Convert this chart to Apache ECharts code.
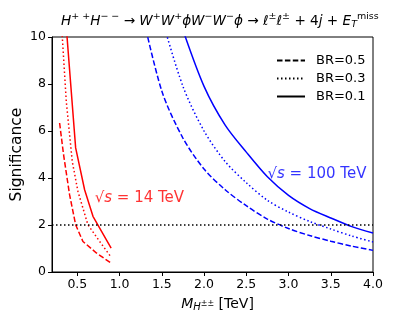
<!DOCTYPE html>
<html><head><meta charset="utf-8">
<script src="https://cdn.jsdelivr.net/npm/echarts@6/dist/echarts.min.js"></script>
<style>html,body{margin:0;padding:0;background:#fff}#c{width:415px;height:312px}</style>
</head><body><div id="c"></div>
<script>
const xTicks = [0.5, 1.0, 1.5, 2.0, 2.5, 3.0, 3.5, 4.0];
const yTicks = [0, 2, 4, 6, 8, 10];
// sqrt(s)=14 TeV
const lhc_br05 = [[0.29,6.34],[0.337,4.99],[0.408,3.29],[0.48,2.01],[0.566,1.30],[0.725,0.81],[0.90,0.38]];
const lhc_br03 = [[0.315,10.4],[0.369,7.26],[0.44,4.70],[0.507,3.43],[0.625,2.01],[0.764,1.30],[0.894,0.66]];
const lhc_br01 = [[0.35,11.3],[0.48,5.28],[0.586,3.50],[0.685,2.37],[0.90,1.02]];
// sqrt(s)=100 TeV
const fcc_mass = [1.25,1.5,1.75,2.0,2.25,2.5,2.75,3.0,3.25,3.5,3.75,4.0];
const fcc_br05 = [11.3,7.7,5.7,4.38,3.5,2.82,2.25,1.85,1.55,1.31,1.1,0.92];
const fcc_br03 = [null,10.8,7.9,6.0,4.7,3.8,3.05,2.55,2.15,1.83,1.53,1.28];
const fcc_br01 = [null,null,10.3,7.9,6.25,5.1,4.05,3.26,2.7,2.3,1.93,1.66];
const threshold = 2;
const legendNames = ['BR=0.5','BR=0.3','BR=0.1'];

const RED = '#ff0000', BLUE = '#0000ff';
const dashed = [5.5, 2.4], dotted = [1.5, 2.5];
const pair = (xs, ys) => xs.map((x, i) => ys[i] == null ? null : [x, ys[i]]).filter(p => p);

function curve(data, color, type, smooth) {
  return { type: 'line', data, symbol: 'none', smooth: smooth ? 0.3 : false, clip: true, silent: true,
    lineStyle: { color, width: 1.5, type }, itemStyle: { color }, z: 3 };
}
const chart = echarts.init(document.getElementById('c'), null, { renderer: 'canvas' });
const FONT = 'DejaVu Sans';
const series = [
  curve(lhc_br05, RED, dashed), curve(lhc_br03, RED, dotted), curve(lhc_br01, RED, 'solid'),
  curve(pair(fcc_mass, fcc_br05), BLUE, dashed, true),
  curve(pair(fcc_mass, fcc_br03), BLUE, dotted, true),
  curve(pair(fcc_mass, fcc_br01), BLUE, 'solid', true),
  { type: 'line', data: [], symbol: 'none', markLine: { silent: true, symbol: 'none', label: { show: false },
      lineStyle: { color: '#000', type: dotted, width: 1.5 }, data: [{ yAxis: threshold }] } },
  { name: legendNames[0], type: 'line', data: [], symbol: 'none', lineStyle: { color: '#000', width: 1.5, type: dashed }, itemStyle: { color: '#000' } },
  { name: legendNames[1], type: 'line', data: [], symbol: 'none', lineStyle: { color: '#000', width: 1.5, type: dotted }, itemStyle: { color: '#000' } },
  { name: legendNames[2], type: 'line', data: [], symbol: 'none', lineStyle: { color: '#000', width: 1.5, type: 'solid' }, itemStyle: { color: '#000' } },
  { type: 'scatter', symbolSize: 0, silent: true, data: [[0.705, 3.15]],
    label: { show: true, position: 'right', distance: 0, color: RED, fontFamily: FONT, fontSize: 15,
      formatter: '{n|√}{i|s}{n| = 14 TeV}', rich: { n: { color: RED, fontSize: 15, fontFamily: FONT }, i: { color: RED, fontSize: 15, fontStyle: 'italic', fontFamily: FONT } } } },
  { type: 'scatter', symbolSize: 0, silent: true, data: [[2.75, 4.18]],
    label: { show: true, position: 'right', distance: 0, color: BLUE, fontFamily: FONT, fontSize: 15,
      formatter: '{n|√}{i|s}{n| = 100 TeV}', rich: { n: { color: BLUE, fontSize: 15, fontFamily: FONT }, i: { color: BLUE, fontSize: 15, fontStyle: 'italic', fontFamily: FONT } } } }
];
const supS = { fontSize: 9.5, fontFamily: FONT, color: '#000', padding: [0, 0, 9, 0] };
const subS = { fontSize: 9.5, fontFamily: FONT, color: '#000', fontStyle: 'italic', padding: [7, 0, 0, 0] };
chart.setOption({
  animation: false,
  textStyle: { fontFamily: FONT },
  title: {
    left: 56, top: 7,
    text: '{i|H}{sup|+ +}{i|H}{sup|− −}{n| → }{i|W}{sup|+}{i|W}{sup|+}{i|ϕW}{sup|−}{i|W}{sup|−}{i|ϕ}{n| → }{i|ℓ}{sup|±}{i|ℓ}{sup|±}{n| + 4}{i|j}{n| + }{i|E}{sub|T}{sup|miss}',
    textStyle: { fontSize: 13.6, fontWeight: 'normal', color: '#000',
      rich: { i: { fontSize: 13.6, fontStyle: 'italic', fontFamily: FONT, color: '#000' },
              n: { fontSize: 13.6, fontFamily: FONT, color: '#000' },
              sup: supS, sub: subS } }
  },
  legend: {
    data: legendNames, orient: 'vertical', left: 271, top: 49, itemWidth: 28, itemHeight: 14, itemGap: 5,
    itemStyle: { opacity: 0 },
    textStyle: { fontSize: 13, color: '#000', fontFamily: FONT, padding: [0, 0, 0, 6] }, selectedMode: false
  },
  grid: { left: 52, right: 42, top: 37, bottom: 40, outerBoundsMode: 'none', containLabel: false, show: true, borderColor: '#000', borderWidth: 1, backgroundColor: 'transparent' },
  xAxis: {
    type: 'value', min: 0.2, max: 4.0,
    name: '{i|M}{sub|H}{sup2|±±}{n| [TeV]}', nameLocation: 'middle', nameGap: 24, nameMoveOverlap: false,
    nameTextStyle: { fontSize: 14, color: '#000', padding: [0, 0, 0, 10], rich: {
      i: { fontSize: 14, fontStyle: 'italic', fontFamily: FONT, color: '#000' },
      n: { fontSize: 14, fontFamily: FONT, color: '#000' },
      sub: { fontSize: 10, fontStyle: 'italic', fontFamily: FONT, color: '#000', padding: [6, 0, 0, 0] },
      sup2: { fontSize: 8, fontFamily: FONT, color: '#000', padding: [0, 0, 0, 0] } } },
    axisLine: { show: true, lineStyle: { color: '#000', width: 1 } },
    axisTick: { show: true, length: 4, lineStyle: { color: '#000' }, customValues: xTicks },
    axisLabel: { fontSize: 12.5, color: '#000', margin: 6, customValues: xTicks, formatter: v => v.toFixed(1) },
    splitLine: { show: false }
  },
  yAxis: {
    type: 'value', min: 0, max: 10, interval: 2,
    name: 'Significance', nameLocation: 'middle', nameGap: 27, nameRotate: 90, nameMoveOverlap: false,
    nameTextStyle: { fontSize: 15.5, color: '#000' },
    axisLine: { show: true, lineStyle: { color: '#000', width: 1 } },
    axisTick: { show: true, length: 4, lineStyle: { color: '#000' } },
    axisLabel: { fontSize: 12.5, color: '#000', margin: 6 },
    splitLine: { show: false }
  },
  series
});
</script></body></html>
